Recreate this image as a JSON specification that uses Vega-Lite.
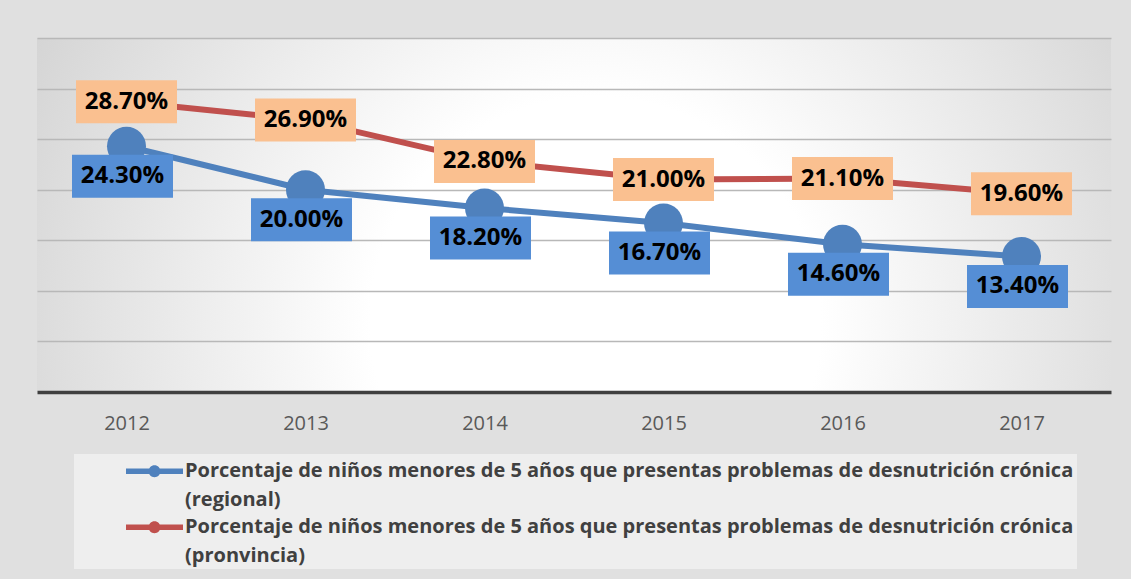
{
  "$schema": "https://vega.github.io/schema/vega-lite/v6.json",
  "width": 1074,
  "height": 354,
  "autosize": {"type": "none"},
  "padding": {"left": 37, "top": 38, "right": 20, "bottom": 187},
  "background": "#e0e0e0",
  "config": {
    "view": {
      "stroke": null,
      "fill": {
        "gradient": "radial",
        "x1": 0.52, "y1": 0.6, "r1": 0,
        "x2": 0.52, "y2": 0.6, "r2": 0.75,
        "stops": [
          {"offset": 0, "color": "#ffffff"},
          {"offset": 0.28, "color": "#ffffff"},
          {"offset": 1, "color": "#c2c2c2"}
        ]
      }
    },
    "font": "Open Sans"
  },
  "data": {
    "values": [
      {"year": "2012", "serie": "regional", "pct": 0.243},
      {"year": "2013", "serie": "regional", "pct": 0.200},
      {"year": "2014", "serie": "regional", "pct": 0.182},
      {"year": "2015", "serie": "regional", "pct": 0.167},
      {"year": "2016", "serie": "regional", "pct": 0.146},
      {"year": "2017", "serie": "regional", "pct": 0.134},
      {"year": "2012", "serie": "provincia", "pct": 0.287},
      {"year": "2013", "serie": "provincia", "pct": 0.269},
      {"year": "2014", "serie": "provincia", "pct": 0.228},
      {"year": "2015", "serie": "provincia", "pct": 0.210},
      {"year": "2016", "serie": "provincia", "pct": 0.211},
      {"year": "2017", "serie": "provincia", "pct": 0.196}
    ]
  },
  "encoding": {
    "x": {
      "field": "year",
      "type": "ordinal",
      "axis": {
        "title": null,
        "labelAngle": 0,
        "labelFont": "Open Sans",
        "labelFontSize": 20,
        "labelColor": "#595959",
        "labelPadding": 21,
        "ticks": false,
        "grid": false,
        "domainColor": "#404040",
        "domainWidth": 3.5
      }
    },
    "y": {
      "field": "pct",
      "type": "quantitative",
      "scale": {"domain": [0, 0.35], "nice": false},
      "axis": {
        "title": null,
        "labels": false,
        "ticks": false,
        "domain": false,
        "grid": true,
        "gridColor": "#b8b8b8",
        "gridWidth": 1.5,
        "values": [0.05, 0.1, 0.15, 0.2, 0.25, 0.3, 0.35]
      }
    }
  },
  "layer": [
    {
      "mark": {"type": "line", "strokeWidth": 6},
      "encoding": {
        "color": {
          "field": "serie",
          "type": "nominal",
          "scale": {"domain": ["regional", "provincia"], "range": ["#4F81BD", "#C0504D"]},
          "legend": {
            "orient": "none",
            "legendX": 37,
            "legendY": 416,
            "direction": "vertical",
            "title": null,
            "padding": 3,
            "fillColor": "rgba(255,255,255,0.45)",
            "symbolType": "M-1,-0.6H1V-0.4H-1Z M0.21,-0.5A0.21,0.21,0,1,1,-0.21,-0.5A0.21,0.21,0,1,1,0.21,-0.5Z",
            "symbolSize": 3249,
            "symbolStrokeWidth": 0,
            "symbolOffset": 49,
            "labelOffset": 2,
            "rowPadding": 3,
            "labelFont": "Open Sans",
            "labelFontWeight": "bold",
            "labelFontSize": 20,
            "labelColor": "#404040",
            "labelLimit": 2000,
            "labelBaseline": "middle",
            "labelExpr": "datum.value == 'regional' ? ['Porcentaje de niños menores de 5 años que presentas problemas de desnutrición crónica', '(regional)'] : ['Porcentaje de niños menores de 5 años que presentas problemas de desnutrición crónica', '(pronvincia)']",
            "encode": {
              "symbols": {"update": {"fill": {"scale": "color", "field": "value"}, "opacity": {"value": 1}}},
              "labels": {"update": {"lineHeight": {"value": 29}, "dy": {"value": -14.5}}}
            }
          }
        }
      }
    },
    {
      "mark": {"type": "point", "shape": "circle", "filled": true, "size": 1521, "opacity": 1},
      "encoding": {
        "color": {"field": "serie", "type": "nominal"}
      }
    },
    {
      "transform": [{"filter": "datum.serie == 'provincia'"}],
      "mark": {"type": "point", "shape": "M-1,-0.4257H1V0.4257H-1Z", "size": 10201, "filled": true, "color": "#FAC090", "opacity": 1, "strokeWidth": 0}
    },
    {
      "transform": [{"filter": "datum.serie == 'regional'"}],
      "mark": {"type": "point", "shape": "M-1,-0.4257H1V0.4257H-1Z", "size": 10201, "filled": true, "color": "#558ED5", "opacity": 1, "strokeWidth": 0, "yOffset": 30, "xOffset": -4}
    },
    {
      "transform": [{"filter": "datum.serie == 'provincia'"}],
      "mark": {"type": "text", "font": "Open Sans", "fontWeight": "bold", "fontSize": 24, "color": "#000000", "baseline": "middle", "align": "center"},
      "encoding": {"text": {"field": "pct", "type": "quantitative", "format": ".2%"}}
    },
    {
      "transform": [{"filter": "datum.serie == 'regional'"}],
      "mark": {"type": "text", "font": "Open Sans", "fontWeight": "bold", "fontSize": 24, "color": "#000000", "baseline": "middle", "align": "center", "yOffset": 30, "xOffset": -4},
      "encoding": {"text": {"field": "pct", "type": "quantitative", "format": ".2%"}}
    }
  ]
}
